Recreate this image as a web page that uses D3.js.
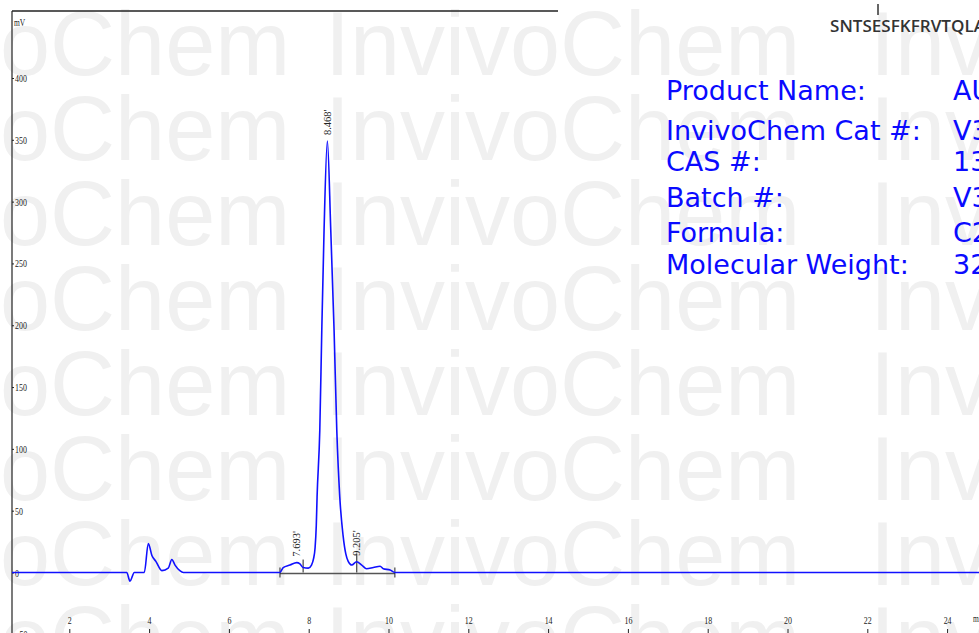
<!DOCTYPE html>
<html>
<head>
<meta charset="utf-8">
<script src="https://cdn.jsdelivr.net/npm/d3@7"></script>
<style>
  body { margin: 0; background: #fff; overflow: hidden; }
  svg { display: block; }
</style>
</head>
<body>
<script>
// chromatogram: retention time (min) and signal (mV)
var times = [0, 3.44, 3.52, 3.63, 3.88, 3.98, 4.07, 4.17, 4.32, 4.48, 4.57, 4.65, 4.77, 4.86,
  7.28, 7.36, 7.53, 7.70, 7.78, 7.86, 7.99, 8.07, 8.12, 8.16, 8.19, 8.21, 8.278, 8.328, 8.385,
  8.468, 8.553, 8.636, 8.704, 8.779, 8.861, 8.93, 8.99, 9.08, 9.20, 9.33, 9.45, 9.62, 9.79,
  9.87, 10.04, 10.16, 25];
var signal = [0, 0, -7, 0, 0, 23.5, 13.8, 9, 1.5, 3.5, 10.5, 6, 1.5, 0,
  0, 4, 6, 8, 7, 4, 3.5, 6, 11, 20, 38, 61, 115, 196, 277,
  349, 277, 196, 115, 61, 30, 15, 9, 6, 8.7, 6, 3, 4, 5,
  3, 2, 0, 0];

var peakTimes = [7.693, 8.468, 9.205];
var peakLabels = ["7.693'", "8.468'", "9.205'"];
var dropTimes = [7.28, 7.86, 9.205, 10.16];

var yTicks = [-50, 0, 50, 100, 150, 200, 250, 300, 350, 400];
var xTicks = [2, 4, 6, 8, 10, 12, 14, 16, 18, 20, 22, 24];

var infoLabels = ["Product Name:", "InvivoChem Cat #:", "CAS #:", "Batch #:", "Formula:", "Molecular Weight:"];
var infoValues = ["AU", "V3", "13", "V3", "C2", "32"];
var sequence = "SNTSESFKFRVTQLA";

var width = 979, height = 633;

var svg = d3.select("body").append("svg")
    .attr("width", width)
    .attr("height", height);

// watermark
var wmRows = d3.range(8);
var wmCols = [-185, 325, 870];
var wm = svg.append("g")
    .attr("fill", "#f0f0f0")
    .attr("font-family", "'Liberation Sans', Arial, sans-serif")
    .attr("font-size", 90);
wmRows.forEach(function(r) {
  wmCols.forEach(function(c) {
    wm.append("text")
        .attr("x", c)
        .attr("y", 75 + r * 85)
        .text("InvivoChem");
  });
});

var x = d3.scaleLinear()
    .domain([2, 24])
    .range([69.3, 947.1]);

var y = d3.scaleLinear()
    .domain([-50, 400])
    .range([634.3, 78]);

var plotLeft = 12, plotTop = 11;

svg.append("clipPath").attr("id", "plot")
  .append("rect")
    .attr("x", plotLeft).attr("y", plotTop)
    .attr("width", width - plotLeft).attr("height", height - plotTop);

// frame top
svg.append("line")
    .attr("x1", plotLeft).attr("x2", 558)
    .attr("y1", plotTop).attr("y2", plotTop)
    .attr("stroke", "#222")
    .attr("stroke-width", 1.6);

// y axis
var yAxis = svg.append("g")
    .attr("transform", "translate(" + plotLeft + ",0)")
    .call(d3.axisRight(y).tickValues(yTicks).tickSize(2).tickSizeOuter(0).tickPadding(3));
yAxis.select(".domain").remove();
yAxis.selectAll("line").attr("stroke", "#222");
yAxis.selectAll("text")
    .attr("font-family", "'Liberation Serif', 'Times New Roman', serif")
    .attr("font-size", 11)
    .attr("fill", "#222")
    .attr("x", 3 / 0.72)
    .attr("transform", "scale(0.72,1)");
svg.append("line")
    .attr("x1", plotLeft).attr("x2", plotLeft)
    .attr("y1", plotTop).attr("y2", height)
    .attr("stroke", "#222")
    .attr("stroke-width", 1.2);

svg.append("text")
    .attr("transform", "translate(14,26) scale(0.75,1)")
    .attr("font-family", "'Liberation Serif', serif")
    .attr("font-size", 10)
    .attr("fill", "#222")
    .text("mV");

// x axis (sits just below the visible area, ticks point up)
var xAxis = svg.append("g")
    .attr("transform", "translate(0,640)")
    .call(d3.axisTop(x).tickValues(xTicks).tickSize(11).tickPadding(5));
xAxis.select(".domain").remove();
xAxis.selectAll("line").attr("stroke", "#222");
xAxis.selectAll("text")
    .attr("font-family", "'Liberation Serif', 'Times New Roman', serif")
    .attr("font-size", 11)
    .attr("fill", "#222")
    .attr("transform", "scale(0.72,1)");
svg.append("text")
    .attr("transform", "translate(973,622) scale(0.75,1)")
    .attr("font-family", "'Liberation Serif', serif")
    .attr("font-size", 10)
    .attr("fill", "#222")
    .text("min");

// integration baseline and drop marks
svg.append("line")
    .attr("x1", x(dropTimes[0])).attr("x2", x(dropTimes[dropTimes.length - 1]))
    .attr("y1", y(0) + 1).attr("y2", y(0) + 1)
    .attr("stroke", "#555")
    .attr("stroke-width", 1.6);

var interp = function(t) {
  var i = d3.bisectLeft(times, t);
  if (i <= 0) return signal[0];
  var t0 = times[i - 1], t1 = times[i];
  return signal[i - 1] + (signal[i] - signal[i - 1]) * (t - t0) / (t1 - t0);
};

svg.selectAll(".drop")
    .data(dropTimes)
  .enter().append("line")
    .attr("class", "drop")
    .attr("x1", function(d) { return x(d); })
    .attr("x2", function(d) { return x(d); })
    .attr("y1", function(d, i) { return (i === 0 || i === dropTimes.length - 1) ? y(0) - 5 : y(interp(d)) - 8; })
    .attr("y2", function(d, i) { return (i === 0 || i === dropTimes.length - 1) ? y(0) + 5 : y(0); })
    .attr("stroke", "#222")
    .attr("stroke-width", 1);

// signal trace
var line = d3.line()
    .x(function(d, i) { return x(times[i]); })
    .y(function(d) { return y(d); })
    .curve(d3.curveMonotoneX);

svg.append("path")
    .datum(signal)
    .attr("clip-path", "url(#plot)")
    .attr("fill", "none")
    .attr("stroke", "#1010ff")
    .attr("stroke-width", 1.6)
    .attr("d", line);

// peak labels
svg.selectAll(".peak")
    .data(peakTimes)
  .enter().append("text")
    .attr("class", "peak")
    .attr("transform", function(d) { return "translate(" + x(d) + "," + (y(interp(d)) - 6) + ") rotate(-90)"; })
    .attr("dy", "0.35em")
    .attr("font-family", "'Liberation Serif', serif")
    .attr("font-size", 10.5)
    .attr("fill", "#222")
    .text(function(d, i) { return peakLabels[i]; });

// product info
var info = svg.append("g")
    .attr("font-family", "'DejaVu Sans', Verdana, sans-serif")
    .attr("font-size", 27)
    .attr("fill", "#0a0aff");
var infoY = [100, 140, 171, 207, 242, 274];
infoLabels.forEach(function(d, i) {
  info.append("text").attr("x", 666).attr("y", infoY[i]).text(d);
  info.append("text").attr("x", 953).attr("y", infoY[i]).text(infoValues[i]);
});

// sequence fragment, top right
svg.append("text")
    .attr("x", 830).attr("y", 32)
    .attr("font-family", "'Open Sans', 'Liberation Sans', sans-serif")
    .attr("font-size", 17)
    .attr("font-weight", 600)
    .attr("fill", "#333")
    .attr("textLength", 155)
    .attr("lengthAdjust", "spacingAndGlyphs")
    .text(sequence);
svg.append("line")
    .attr("x1", 878).attr("x2", 878)
    .attr("y1", 4).attr("y2", 15)
    .attr("stroke", "#333")
    .attr("stroke-width", 1.5);
</script>
</body>
</html>
